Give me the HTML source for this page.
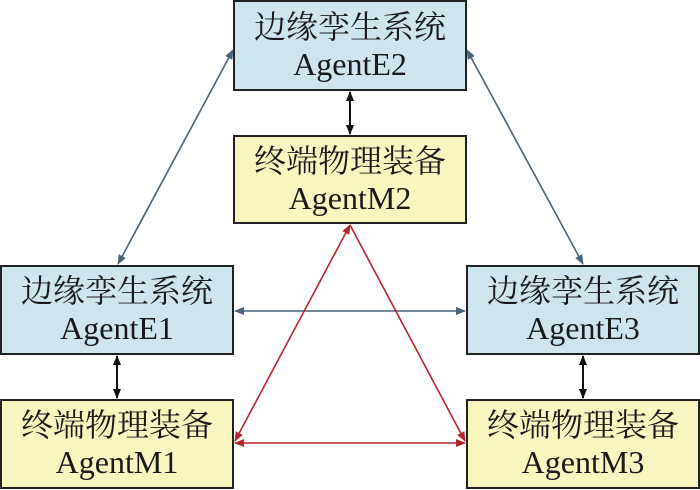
<!DOCTYPE html><html><head><meta charset="utf-8"><style>
body{margin:0;width:700px;height:490px;background:#fff;overflow:hidden;position:relative;font-family:"Liberation Serif","Noto Serif CJK SC",serif}
.b{position:absolute;box-sizing:border-box;border:2px solid #222;text-align:center;font-size:32px;line-height:37px;color:#1a1a1a;display:flex;flex-direction:column;justify-content:center}
.e{background:#cfe5ee}.m{background:#f8f5c1}
svg{position:absolute;left:0;top:0}
</style></head><body>
<div class="b e" style="left:233px;top:0;width:234px;height:91px">边缘孪生系统<br>AgentE2</div>
<div class="b m" style="left:233px;top:135px;width:234px;height:89px">终端物理装备<br>AgentM2</div>
<div class="b e" style="left:0;top:265px;width:234px;height:90px">边缘孪生系统<br>AgentE1</div>
<div class="b m" style="left:0;top:399px;width:234px;height:90px">终端物理装备<br>AgentM1</div>
<div class="b e" style="left:466px;top:265px;width:234px;height:90px">边缘孪生系统<br>AgentE3</div>
<div class="b m" style="left:466px;top:399px;width:234px;height:90px">终端物理装备<br>AgentM3</div>
<svg width="700" height="490">
<defs>
<marker id="bl" markerWidth="10" markerHeight="8" refX="9" refY="4" orient="auto-start-reverse" markerUnits="userSpaceOnUse"><path d="M0,0L10,4L0,8z" fill="#4a6378"/></marker>
<marker id="rd" markerWidth="10" markerHeight="8" refX="9" refY="4" orient="auto-start-reverse" markerUnits="userSpaceOnUse"><path d="M0,0L10,4L0,8z" fill="#b3262a"/></marker>
<marker id="bk" markerWidth="10" markerHeight="8" refX="9" refY="4" orient="auto-start-reverse" markerUnits="userSpaceOnUse"><path d="M0,0L10,4L0,8z" fill="#111"/></marker>
</defs>
<g stroke-width="1.6" fill="none">
<line x1="233" y1="50" x2="118" y2="264" stroke="#4a6378" marker-start="url(#bl)" marker-end="url(#bl)"/>
<line x1="467" y1="50" x2="583" y2="264" stroke="#4a6378" marker-start="url(#bl)" marker-end="url(#bl)"/>
<line x1="235" y1="311" x2="465" y2="311" stroke="#4a6378" marker-start="url(#bl)" marker-end="url(#bl)"/>
<line x1="350" y1="225" x2="235" y2="441" stroke="#b3262a" marker-start="url(#rd)" marker-end="url(#rd)"/>
<line x1="350" y1="225" x2="465" y2="441" stroke="#b3262a" marker-end="url(#rd)"/>
<line x1="235" y1="443" x2="465" y2="443" stroke="#b3262a" marker-start="url(#rd)" marker-end="url(#rd)"/>
<line x1="350" y1="92" x2="350" y2="134" stroke="#111" stroke-width="2" marker-start="url(#bk)" marker-end="url(#bk)"/>
<line x1="117" y1="356" x2="117" y2="398" stroke="#111" stroke-width="2" marker-start="url(#bk)" marker-end="url(#bk)"/>
<line x1="583" y1="356" x2="583" y2="398" stroke="#111" stroke-width="2" marker-start="url(#bk)" marker-end="url(#bk)"/>
</g></svg>
</body></html>
